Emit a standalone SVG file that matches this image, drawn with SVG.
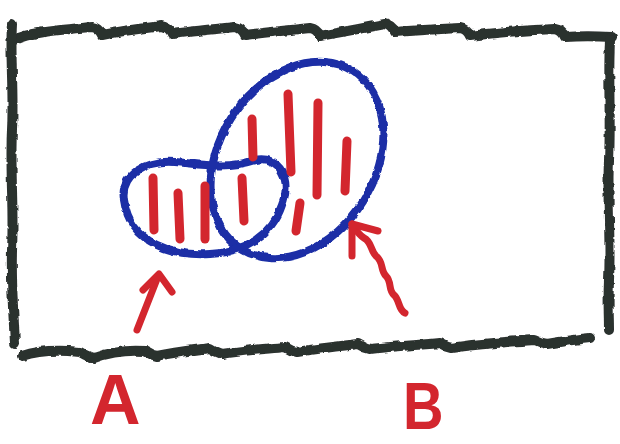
<svg xmlns="http://www.w3.org/2000/svg" width="620" height="444" viewBox="0 0 620 444">
<style>
.frame{fill:none;stroke:#2b302f;stroke-width:10;stroke-linecap:round;stroke-linejoin:round}
.blue{fill:none;stroke:#1b2fa6;stroke-width:8;stroke-linecap:round;stroke-linejoin:round}
.hatch{fill:none;stroke:#d3262e;stroke-width:9;stroke-linecap:round}
.arrow{fill:none;stroke:#d3262e;stroke-width:7;stroke-linecap:round;stroke-linejoin:round}
.lbl{font-family:"Liberation Sans",Arial,sans-serif;font-weight:bold;fill:#d3262e}
</style>
<defs>
<filter id="rough" x="-5%" y="-5%" width="110%" height="110%">
<feTurbulence type="fractalNoise" baseFrequency="0.12" numOctaves="2" seed="3" result="n"/>
<feDisplacementMap in="SourceGraphic" in2="n" scale="4" xChannelSelector="R" yChannelSelector="G"/>
</filter>
</defs>
<rect width="620" height="444" fill="#ffffff"/>
<g id="frame" filter="url(#rough)">
<path class="frame" d="M14,40 C30,32 60,30 92,27 q7,1 10,8 C125,30 145,28 162,26 q7,1 10,8 C195,31 215,29 235,27 q7,1 10,8 C270,32 290,30 310,28 q7,1 10,8 C345,31 365,28 385,24 q7,1 10,8 C420,30 440,29 460,28 q7,1 10,8 C500,32 525,30 555,29 q7,1 10,8 C580,36 595,36 612,37"/>
<path class="frame" d="M12,24 C10,60 14,90 12,130 C10,170 14,210 12,250 C11,290 14,320 15,344"/>
<path class="frame" d="M610,40 C608,80 611,120 609,160 C607,200 611,240 609,280 C608,300 609,318 609,330"/>
<path class="frame" d="M22,356 C40,350 60,350 80,352 q8,5 14,6 C110,352 130,350 145,351 q6,4 12,5 C175,352 195,350 210,348 q6,4 12,6 C245,350 265,349 285,347 q6,4 12,5 C320,348 340,346 358,344 q6,4 12,5 C395,346 420,345 440,343 q6,4 12,5 C480,343 510,342 535,340 q6,3 12,4 C565,341 580,339 590,338"/>
</g>
<g id="set-b" filter="url(#rough)">
<ellipse class="blue" cx="297" cy="160" rx="105" ry="78" transform="rotate(-58 297 160)"/>
</g>
<g id="set-a" filter="url(#rough)">
<path class="blue" d="M124,200 C120,175 145,160 175,162 C200,164 225,170 255,160 C280,155 292,180 282,205 C272,235 245,252 210,254 C175,256 130,245 124,200 Z"/>
</g>
<g id="hatching">
<line class="hatch" x1="153" y1="178" x2="154" y2="230"/>
<line class="hatch" x1="178" y1="193" x2="180" y2="239"/>
<line class="hatch" x1="205" y1="186" x2="205" y2="239"/>
<line class="hatch" x1="242" y1="178" x2="244" y2="221"/>
<line class="hatch" x1="252" y1="119" x2="253" y2="157"/>
<line class="hatch" x1="288" y1="94" x2="291" y2="172"/>
<line class="hatch" x1="318" y1="103" x2="317" y2="195"/>
<line class="hatch" x1="347" y1="141" x2="345" y2="191"/>
<line class="hatch" x1="300" y1="203" x2="296" y2="231"/>
</g>
<g id="connectors">
<path class="arrow" d="M137,330 L157,279"/>
<path class="arrow" d="M143,290 L159,274 L172,292"/>
<path class="arrow" d="M405,313 C398,310 400,300 394,295 C388,290 392,282 386,276 C380,270 384,262 376,256 C370,250 372,242 364,238 C358,234 356,230 352,224"/>
<path class="arrow" d="M352,224 L378,231 M352,224 L352,256"/>
</g>
<g id="label-a"><text class="lbl" x="90" y="424" font-size="70">A</text></g>
<g id="label-b"><text class="lbl" x="0" y="0" font-size="66" transform="translate(403,429) scale(0.85,1)">B</text></g>
</svg>
